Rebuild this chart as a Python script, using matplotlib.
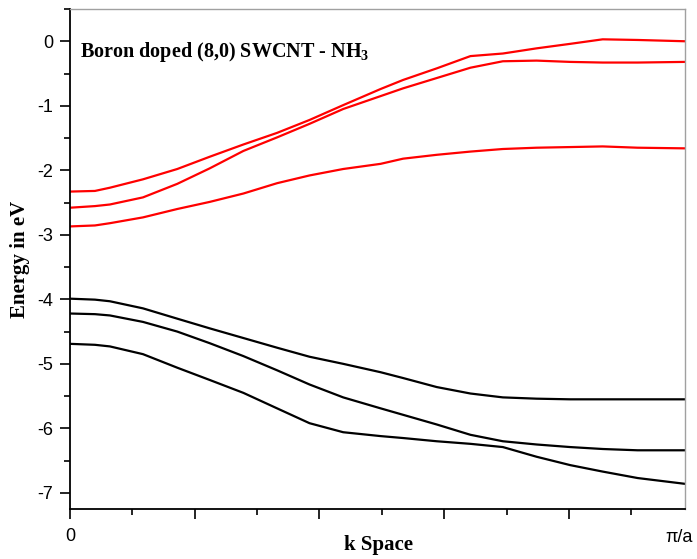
import matplotlib
matplotlib.use("Agg")
import matplotlib.pyplot as plt
from matplotlib.ticker import MultipleLocator, FixedLocator, FixedFormatter

plt.rcParams['axes.unicode_minus'] = False
plt.rcParams['mathtext.fontset'] = 'custom'
plt.rcParams['mathtext.rm'] = 'Liberation Serif'
plt.rcParams['mathtext.bf'] = 'Liberation Serif:bold'

# k points along the zone (0 .. pi/a), common to all bands
k = [0, 0.2, 0.32, 0.585, 0.86, 1.12, 1.39, 1.66, 1.92, 2.19, 2.49,
     2.67, 2.94, 3.21, 3.47, 3.74, 4.01, 4.27, 4.55, 4.93]

# conduction bands (red)
cb1 = [-2.33, -2.32, -2.27, -2.14, -1.98, -1.79, -1.60, -1.42, -1.22, -0.99,
       -0.74, -0.60, -0.42, -0.23, -0.19, -0.11, -0.04, 0.03, 0.02, 0.00]
cb2 = [-2.58, -2.555, -2.53, -2.42, -2.21, -1.97, -1.70, -1.49, -1.28, -1.05,
       -0.85, -0.73, -0.57, -0.41, -0.31, -0.30, -0.32, -0.33, -0.33, -0.32]
cb3 = [-2.87, -2.855, -2.82, -2.73, -2.60, -2.49, -2.36, -2.20, -2.08, -1.98,
       -1.90, -1.82, -1.76, -1.71, -1.67, -1.65, -1.64, -1.63, -1.65, -1.66]

# valence bands (black)
vb1 = [-3.99, -4.005, -4.03, -4.14, -4.30, -4.45, -4.60, -4.75, -4.89, -5.00,
       -5.13, -5.22, -5.36, -5.46, -5.52, -5.54, -5.55, -5.55, -5.55, -5.55]
vb2 = [-4.22, -4.23, -4.25, -4.35, -4.50, -4.68, -4.88, -5.10, -5.32, -5.52,
       -5.69, -5.79, -5.94, -6.10, -6.20, -6.25, -6.29, -6.32, -6.34, -6.34]
vb3 = [-4.69, -4.705, -4.73, -4.85, -5.06, -5.25, -5.45, -5.69, -5.92, -6.06,
       -6.12, -6.15, -6.20, -6.24, -6.29, -6.44, -6.57, -6.67, -6.77, -6.86]

y_ticks = [0, -1, -2, -3, -4, -5, -6, -7]
x_major = [0, 1, 2, 3, 4]
x_labels = ['0', '', '', '', '']

W, H = 697, 559
fig = plt.figure(figsize=(W / 100, H / 100), dpi=100)
ax = fig.add_axes([70 / W, 1 - 509 / H, 615 / W, 500 / H])

for band in (cb1, cb2, cb3):
    ax.plot(k, band, color='#ff0000', lw=1.6, solid_joinstyle='round')
for band in (vb1, vb2, vb3):
    ax.plot(k, band, color='black', lw=1.6, solid_joinstyle='round')

ax.set_xlim(0, 4.93)
ax.set_ylim(-7.25, 0.5)

ax.yaxis.set_major_locator(FixedLocator(y_ticks))
ax.yaxis.set_minor_locator(MultipleLocator(0.5))
ax.xaxis.set_major_locator(FixedLocator(x_major))
ax.xaxis.set_major_formatter(FixedFormatter(x_labels))
ax.xaxis.set_minor_locator(MultipleLocator(0.5))

for side in ('top', 'right'):
    ax.spines[side].set_color('#a0a0a0')
    ax.spines[side].set_linewidth(1.0)
for side in ('left', 'bottom'):
    ax.spines[side].set_color('black')
    ax.spines[side].set_linewidth(1.3)

ax.tick_params(axis='both', which='major', direction='out', length=7,
               width=1.2, labelsize=13, pad=5)
ax.tick_params(axis='both', which='minor', direction='out', length=4,
               width=1.2)
ax.tick_params(axis='x', which='major', pad=7)
for lbl in ax.get_xticklabels() + ax.get_yticklabels():
    lbl.set_family('Liberation Sans')

fig.text(679 / W, 1 - 538 / H, 'π/a', ha='center', va='center',
         fontsize=13, family='Liberation Sans')

fig.text(378 / W, 1 - 545 / H, 'k Space', ha='center', va='center',
         family='Liberation Serif', fontweight='bold', fontsize=15)
fig.text(20 / W, 1 - 259 / H, 'Energy in eV', ha='center', va='center',
         rotation=90, family='Liberation Serif', fontweight='bold',
         fontsize=15)

ax.text(80 / W, 1 - 52 / H, r'Boron doped (8,0) SWCNT - NH$_\mathbf{3}$',
        transform=fig.transFigure, ha='left', va='center',
        family='Liberation Serif', fontweight='bold', fontsize=14.5)

fig.savefig('out.png', dpi=100)
